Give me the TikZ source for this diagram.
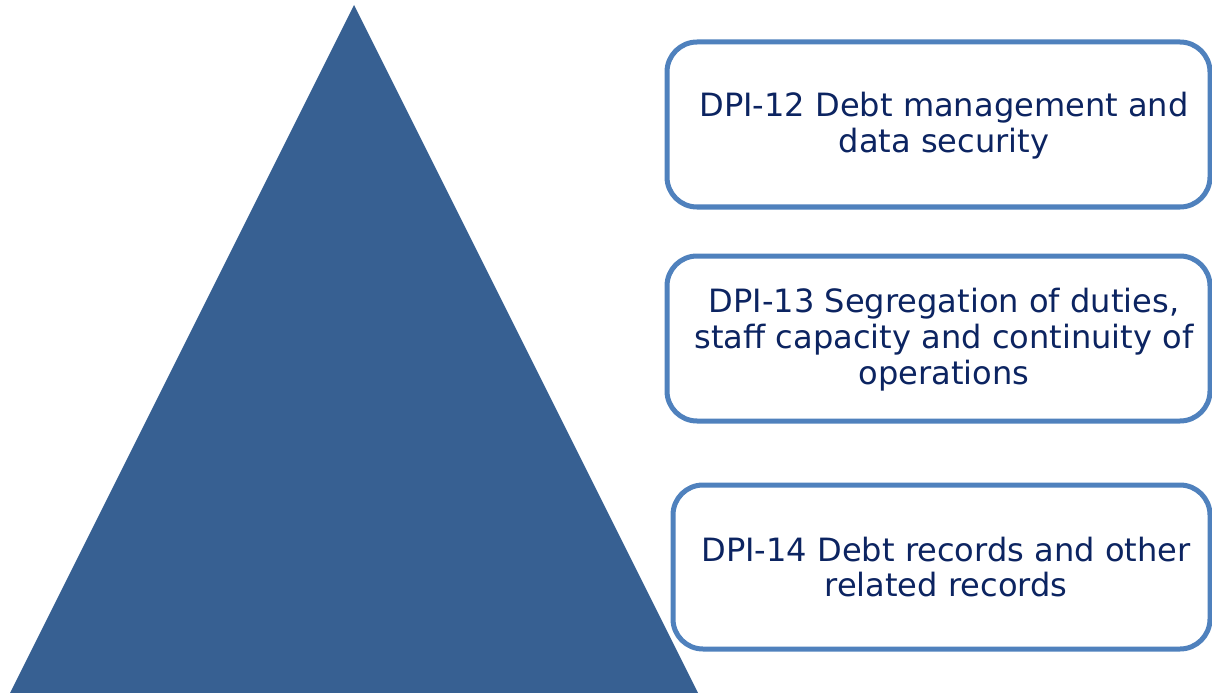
\documentclass[tikz,border=0pt]{standalone}
\usepackage{fontspec}
\setmainfont{DejaVu Sans}
\definecolor{pyramid}{HTML}{376092}
\definecolor{frame}{HTML}{4F81BD}
\definecolor{ink}{HTML}{0C2461}
\begin{document}
\begin{tikzpicture}[x=1bp,y=-1bp,
  item/.style={draw=frame, line width=5bp, rounded corners=30bp, fill=white},
  itemtext/.style={text=ink, font=\fontsize{32.2}{36}\selectfont, align=center, inner sep=0pt}]
\useasboundingbox (0,0) rectangle (1212,693);
% pyramid
\fill[pyramid] (354,5) -- (698,693) -- (10,693) -- cycle;
% boxes
\draw[item] (667,42) rectangle (1210,207);
\node[itemtext] (t1) at (944,126) {DPI-12 Debt management and\\data security};
\draw[item] (667,256) rectangle (1210,421);
\node[itemtext] (t2) at (944,340) {DPI-13 Segregation of duties,\\staff capacity and continuity of\\operations};
\draw[item] (673,485) rectangle (1210,649);
\node[itemtext] (t3) at (946,567) {DPI-14 Debt records and other\\related records};
\end{tikzpicture}
\end{document}
